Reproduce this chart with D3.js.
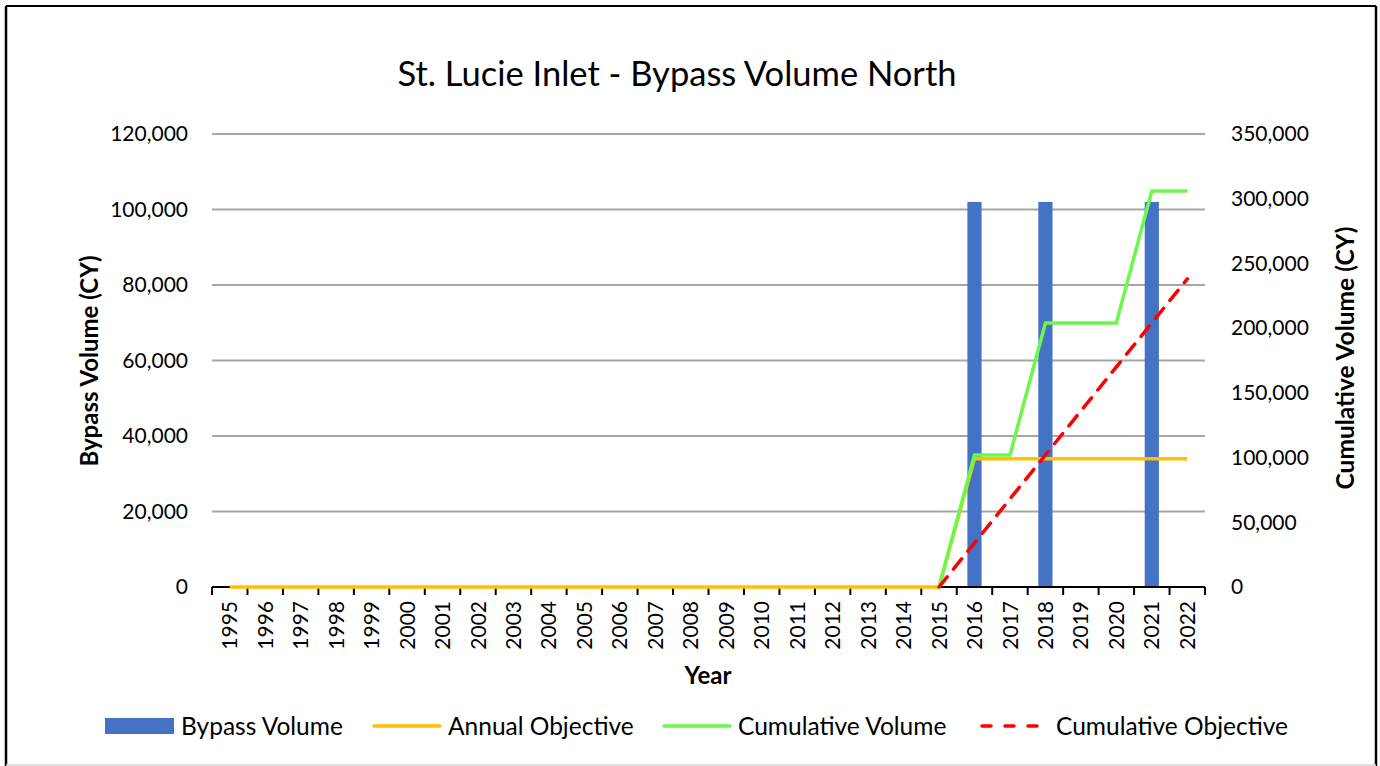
<!DOCTYPE html>
<meta charset="utf-8">
<style>
body { margin: 0; background: #fff; }
text { font-family: Lato, "Open Sans", sans-serif; fill: #000; }
.grid line { stroke: #a6a6a6; stroke-width: 2px; }
</style>
<script src="https://d3js.org/d3.v7.min.js"></script>
<body>
<div id="chart"></div>
</body>
<script>

// years on the x axis
var years = ["1995","1996","1997","1998","1999","2000","2001","2002","2003","2004",
             "2005","2006","2007","2008","2009","2010","2011","2012","2013","2014",
             "2015","2016","2017","2018","2019","2020","2021","2022"];

// bars (left axis)
var bypassVolume = [0,0,0,0,0,0,0,0,0,0, 0,0,0,0,0,0,0,0,0,0, 0,102000,0,102000,0,0,102000,0];

// annual objective (left axis)
var annualObjective = [0,0,0,0,0,0,0,0,0,0, 0,0,0,0,0,0,0,0,0,0, 0,34000,34000,34000,34000,34000,34000,34000];

// cumulative lines (right axis), nothing before 2015
var cumulativeVolume = [null,null,null,null,null,null,null,null,null,null,
                        null,null,null,null,null,null,null,null,null,null,
                        0,102000,102000,204000,204000,204000,306000,306000];
var cumulativeObjective = [null,null,null,null,null,null,null,null,null,null,
                           null,null,null,null,null,null,null,null,null,null,
                           0,34000,68000,102000,136000,170000,204000,238000];

var leftTicks = [0,20000,40000,60000,80000,100000,120000];
var rightTicks = [0,50000,100000,150000,200000,250000,300000,350000];

var legendItems = [
  {name: "Bypass Volume", color: "#4472c4", type: "bar"},
  {name: "Annual Objective", color: "#ffc000", type: "line"},
  {name: "Cumulative Volume", color: "#6cf84a", type: "line"},
  {name: "Cumulative Objective", color: "#ff0000", type: "dash"}
];

var W = 1380, H = 766;
var margin = {top: 134, right: 175, bottom: 179, left: 212},
    width = W - margin.left - margin.right,
    height = H - margin.top - margin.bottom;

var svg = d3.select("#chart").append("svg")
    .attr("width", W)
    .attr("height", H);

// chart border
svg.append("line").attr("x1", 6).attr("y1", 6).attr("x2", 6).attr("y2", 766)
    .attr("stroke", "#000").attr("stroke-width", 2.5);
svg.append("line").attr("x1", 6).attr("y1", 6).attr("x2", 1376).attr("y2", 6)
    .attr("stroke", "#000").attr("stroke-width", 2);
svg.append("line").attr("x1", 1376).attr("y1", 6).attr("x2", 1376).attr("y2", 766)
    .attr("stroke", "#000").attr("stroke-width", 2.5);
svg.append("line").attr("x1", 6).attr("y1", 765).attr("x2", 1376).attr("y2", 765)
    .attr("stroke", "#d9d9d9").attr("stroke-width", 1.5);

// title
svg.append("text")
    .attr("x", 677).attr("y", 86)
    .attr("text-anchor", "middle")
    .style("font-size", "34.5px")
    .text("St. Lucie Inlet - Bypass Volume North");

var g = svg.append("g")
    .attr("transform", "translate(" + margin.left + "," + margin.top + ")");

// scales
var x = d3.scaleBand().domain(years).range([0, width]).padding(0);
var yLeft = d3.scaleLinear().domain([0, 120000]).range([height, 0]);
var yRight = d3.scaleLinear().domain([0, 350000]).range([height, 0]);

// gridlines
g.append("g").attr("class", "grid")
  .selectAll("line")
  .data(leftTicks.slice(1))
  .enter().append("line")
    .attr("x1", 0).attr("x2", width)
    .attr("y1", function(d) { return yLeft(d); })
    .attr("y2", function(d) { return yLeft(d); });

// left axis
var la = g.append("g")
    .call(d3.axisLeft(yLeft).tickValues(leftTicks).tickSize(0).tickPadding(24)
      .tickFormat(d3.format(",")));
la.select(".domain").remove();
la.selectAll("text").style("font-size", "21px").style("font-family", "Lato");

// right axis
var ra = g.append("g")
    .attr("transform", "translate(" + width + ",0)")
    .call(d3.axisRight(yRight).tickValues(rightTicks).tickSize(0).tickPadding(26)
      .tickFormat(d3.format(",")));
ra.select(".domain").remove();
ra.selectAll("text").style("font-size", "21px").style("font-family", "Lato");

// bars
var barW = x.bandwidth() * 0.4;
g.selectAll(".bar")
    .data(years)
  .enter().append("rect")
    .attr("class", "bar")
    .attr("x", function(d) { return x(d) + (x.bandwidth() - barW) / 2; })
    .attr("width", barW)
    .attr("y", function(d, i) { return yLeft(bypassVolume[i]); })
    .attr("height", function(d, i) { return height - yLeft(bypassVolume[i]); })
    .attr("fill", "#4472c4");

// x axis: labels centred, ticks at the category boundaries
var xa = g.append("g")
    .attr("transform", "translate(0," + height + ")")
    .call(d3.axisBottom(x).tickSize(0).tickPadding(0));
xa.select(".domain").remove();
xa.selectAll("text")
    .style("font-size", "21px").style("font-family", "Lato")
    .attr("transform", "rotate(-90)")
    .attr("text-anchor", "end")
    .attr("x", -14).attr("y", 0).attr("dy", "0.36em");

var bounds = years.map(function(d) { return x(d); }).concat([width]);
g.append("g").selectAll("line")
    .data(bounds)
  .enter().append("line")
    .attr("x1", function(d) { return d; }).attr("x2", function(d) { return d; })
    .attr("y1", height).attr("y2", height + 8)
    .attr("stroke", "#000").attr("stroke-width", 2);
g.append("line")
    .attr("x1", 0).attr("x2", width).attr("y1", height).attr("y2", height)
    .attr("stroke", "#000").attr("stroke-width", 2);

// lines
function lineFor(vals, scale) {
  return d3.line()
    .defined(function(d, i) { return vals[i] !== null; })
    .x(function(d) { return x(d) + x.bandwidth() / 2; })
    .y(function(d, i) { return scale(vals[i]); })(years);
}

g.append("path")
    .attr("d", lineFor(annualObjective, yLeft))
    .attr("fill", "none").attr("stroke", "#ffc000").attr("stroke-width", 3.5);

g.append("path")
    .attr("d", lineFor(cumulativeVolume, yRight))
    .attr("fill", "none").attr("stroke", "#6cf84a").attr("stroke-width", 3.5);

g.append("path")
    .attr("d", lineFor(cumulativeObjective, yRight))
    .attr("fill", "none").attr("stroke", "#ff0000").attr("stroke-width", 3.5)
    .attr("stroke-dasharray", "13,10").attr("stroke-linecap", "round");

// axis titles
svg.append("text")
    .attr("transform", "translate(98,361) rotate(-90)")
    .attr("text-anchor", "middle")
    .style("font-size", "24px").style("font-weight", "bold")
    .text("Bypass Volume (CY)");

svg.append("text")
    .attr("transform", "translate(1354,358) rotate(-90)")
    .attr("text-anchor", "middle")
    .style("font-size", "24.5px").style("font-weight", "bold")
    .text("Cumulative Volume (CY)");

svg.append("text")
    .attr("x", 708).attr("y", 684)
    .attr("text-anchor", "middle")
    .style("font-size", "24px").style("font-weight", "bold")
    .text("Year");

// legend
var legendX = [105, 372, 662, 980];
var lg = svg.append("g").attr("transform", "translate(0,726)");
legendItems.forEach(function(d, i) {
  var item = lg.append("g").attr("transform", "translate(" + legendX[i] + ",0)");
  if (d.type === "bar") {
    item.append("rect").attr("x", 0).attr("y", -8).attr("width", 69).attr("height", 16)
        .attr("fill", d.color);
  } else {
    item.append("line").attr("x1", 2).attr("x2", 68).attr("y1", 0).attr("y2", 0)
        .attr("stroke", d.color).attr("stroke-width", 3.5)
        .attr("stroke-linecap", "round")
        .attr("stroke-dasharray", d.type === "dash" ? "9,14" : null);
  }
  item.append("text")
      .attr("x", 76).attr("y", 0).attr("dy", "0.36em")
      .style("font-size", "24.5px")
      .text(d.name);
});

</script>
